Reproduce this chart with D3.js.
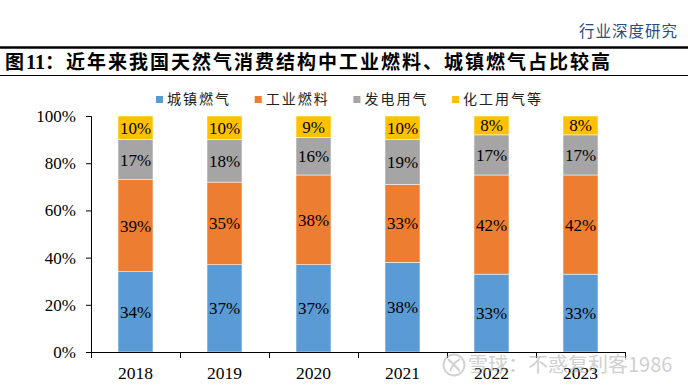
<!DOCTYPE html>
<html>
<head>
<meta charset="utf-8">
<script src="https://cdn.jsdelivr.net/npm/d3@7"></script>
<style>
    body { margin: 0; background: #fff; }
    svg { display: block; }
    .serif { font-family: "Liberation Serif", "DejaVu Serif", serif; }
</style>
</head>
<body>
<svg id="chart" width="688" height="387"></svg>
<script>

// Data.

const years = ["2018", "2019", "2020", "2021", "2022", "2023"];
const seriesNames = ["城镇燃气", "工业燃料", "发电用气", "化工用气等"];
const cityGas = [34, 37, 37, 38, 33, 33];
const industry = [39, 35, 38, 33, 42, 42];
const power = [17, 18, 16, 19, 17, 17];
const chemical = [10, 10, 9, 10, 8, 8];
const yTicks = [0, 20, 40, 60, 80, 100];

const colors = ["#5B9BD5", "#ED7D31", "#A5A5A5", "#FFC000"];

const svg = d3.select("#chart");

// Plot margins.

const margin = { "T": 116, "B": 35, "L": 91, "R": 63 };
const W = 688, H = 387;

//----------------------------------------------------------------------------//
//                                   HEADER                                   //
//----------------------------------------------------------------------------//

svg.append("text")
    .attr("x", 678)
    .attr("y", 37)
    .attr("text-anchor", "end")
    .attr("font-family", "Noto Sans CJK SC")
    .attr("font-size", 15.5)
    .attr("letter-spacing", 1)
    .attr("fill", "#2B4C7E")
    .text("行业深度研究");

svg.append("line")
    .attr("x1", 0).attr("x2", W)
    .attr("y1", 47.5).attr("y2", 47.5)
    .attr("stroke", "#000")
    .attr("stroke-width", 2.5);

const title = svg.append("text")
    .attr("x", 5)
    .attr("y", 69)
    .attr("font-family", "Noto Sans CJK SC")
    .attr("font-weight", "bold")
    .attr("font-size", 19)
    .attr("letter-spacing", 2)
    .attr("fill", "#000");
title.append("tspan").text("图");
title.append("tspan")
    .attr("class", "serif")
    .attr("font-size", 20)
    .attr("letter-spacing", 0)
    .text("11");
title.append("tspan").text("：近年来我国天然气消费结构中工业燃料、城镇燃气占比较高");

svg.append("line")
    .attr("x1", 0).attr("x2", W)
    .attr("y1", 75.5).attr("y2", 75.5)
    .attr("stroke", "#000")
    .attr("stroke-width", 1);

//----------------------------------------------------------------------------//
//                                   LEGEND                                   //
//----------------------------------------------------------------------------//

const legend = svg.append("g")
    .selectAll("g")
    .data(seriesNames)
    .join("g")
        .attr("transform", (d, i) => `translate(${156 + i * 98.7}, 0)`);

legend.append("rect")
    .attr("x", 0).attr("y", 96)
    .attr("width", 7).attr("height", 7)
    .attr("fill", (d, i) => colors[i]);

legend.append("text")
    .attr("x", 11)
    .attr("y", 104)
    .attr("font-family", "Noto Sans CJK SC")
    .attr("font-size", 14)
    .attr("letter-spacing", 2)
    .attr("fill", "#222")
    .text(d => d);

//----------------------------------------------------------------------------//
//                                    AXES                                    //
//----------------------------------------------------------------------------//

const yScale = d3.scaleLinear()
    .domain([0, 100])
    .range([H - margin.B, margin.T]);

const xScale = d3.scaleBand()
    .domain(years)
    .range([margin.L, W - margin.R])
    .paddingInner(0.607)
    .paddingOuter(0.3035);

// Category boundaries for the x ticks.
const xEdge = d3.scaleLinear()
    .domain([0, years.length])
    .range([margin.L, W - margin.R]);

const yAx = svg.append("g")
    .attr("transform", `translate(${margin.L}, 0)`)
    .call(d3.axisLeft(yScale)
        .tickValues(yTicks)
        .tickSize(5)
        .tickPadding(10)
        .tickFormat(d => d + "%"));

yAx.attr("font-family", null);
yAx.selectAll("text")
    .attr("class", "serif")
    .attr("font-size", 17)
    .attr("fill", "#000");

//----------------------------------------------------------------------------//
//                                    BARS                                    //
//----------------------------------------------------------------------------//

const table = years.map((y, i) => ({
    "year": y,
    [seriesNames[0]]: cityGas[i],
    [seriesNames[1]]: industry[i],
    [seriesNames[2]]: power[i],
    [seriesNames[3]]: chemical[i],
}));

const stacked = d3.stack().keys(seriesNames)(table);

const layers = svg.append("g")
    .selectAll("g")
    .data(stacked)
    .join("g")
        .attr("fill", (d, i) => colors[i]);

layers.selectAll("rect")
    .data(d => d)
    .join("rect")
        .attr("x", d => xScale(d.data.year))
        .attr("y", d => yScale(d[1]))
        .attr("width", xScale.bandwidth())
        .attr("height", d => yScale(d[0]) - yScale(d[1]))
        .attr("stroke", "#fff")
        .attr("stroke-width", 0.5);

layers.selectAll("text")
    .data(d => d)
    .join("text")
        .attr("class", "serif")
        .attr("x", d => xScale(d.data.year) + xScale.bandwidth() / 2)
        .attr("y", d => (yScale(d[0]) + yScale(d[1])) / 2)
        .attr("dy", "0.35em")
        .attr("text-anchor", "middle")
        .attr("font-size", 17)
        .attr("fill", "#000")
        .text(d => (d[1] - d[0]) + "%");

// x Axis drawn over the bars.

const xAx = svg.append("g")
    .attr("transform", `translate(0, ${H - margin.B})`);

xAx.append("line")
    .attr("x1", margin.L).attr("x2", W - margin.R)
    .attr("y1", 0.5).attr("y2", 0.5)
    .attr("stroke", "#000");

xAx.selectAll(".edge")
    .data(d3.range(years.length + 1))
    .join("line")
        .attr("class", "edge")
        .attr("x1", d => Math.round(xEdge(d)) + 0.5)
        .attr("x2", d => Math.round(xEdge(d)) + 0.5)
        .attr("y1", 0).attr("y2", 6)
        .attr("stroke", "#000");

xAx.selectAll(".year")
    .data(years)
    .join("text")
        .attr("class", "serif")
        .attr("x", d => xScale(d) + xScale.bandwidth() / 2)
        .attr("y", 27)
        .attr("text-anchor", "middle")
        .attr("font-size", 17.5)
        .attr("fill", "#000")
        .text(d => d);

// Watermark (sits over the last year labels, as in the source).

const mark = svg.append("g").attr("opacity", 0.55);

mark.append("circle")
    .attr("cx", 454).attr("cy", 365).attr("r", 10.5)
    .attr("fill", "none")
    .attr("stroke", "#aaa")
    .attr("stroke-width", 1.8);

mark.append("path")
    .attr("d", "M448,359 L460,371 M460,359 C455,362 452,366 450,371")
    .attr("fill", "none")
    .attr("stroke", "#aaa")
    .attr("stroke-width", 1.8);

mark.append("text")
    .attr("x", 468)
    .attr("y", 372)
    .attr("font-family", "Noto Sans CJK SC")
    .attr("font-size", 20)
    .attr("fill", "#aaa")
    .text("雪球：不惑复利客1986");

</script>
</body>
</html>
